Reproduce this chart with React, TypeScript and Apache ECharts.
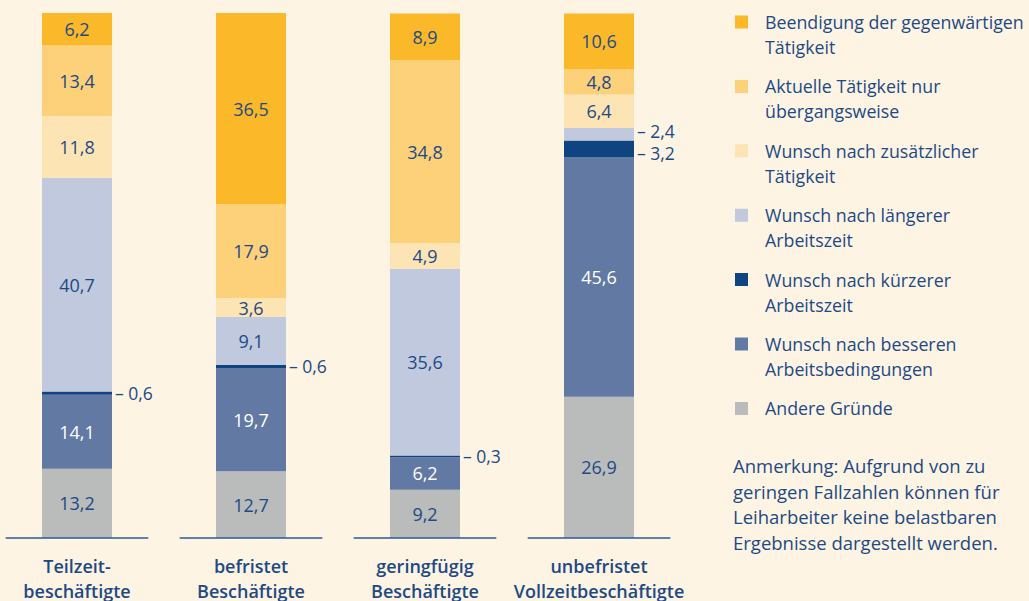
import React, { useEffect, useRef } from 'react';
import * as echarts from 'echarts';

const categories = ['Teilzeit-\nbeschäftigte', 'befristet\nBeschäftigte', 'geringfügig\nBeschäftigte', 'unbefristet\nVollzeitbeschäftigte'];

// bottom to top
const andere = [13.2, 12.7, 9.2, 26.9];
const besseren = [14.1, 19.7, 6.2, 45.6];
const kuerzer = [0.6, 0.6, 0.3, 3.2];
const laenger = [40.7, 9.1, 35.6, 2.4];
const zusaetzlich = [11.8, 3.6, 4.9, 6.4];
const uebergang = [13.4, 17.9, 34.8, 4.8];
const beendigung = [6.2, 36.5, 8.9, 10.6];

const seriesNames = [
  'Andere Gründe',
  'Wunsch nach besseren Arbeitsbedingungen',
  'Wunsch nach kürzerer Arbeitszeit',
  'Wunsch nach längerer Arbeitszeit',
  'Wunsch nach zusätzlicher Tätigkeit',
  'Aktuelle Tätigkeit nur übergangsweise',
  'Beendigung der gegenwärtigen Tätigkeit',
];
const legendLabels = [
  'Andere Gründe\n ',
  'Wunsch nach besseren\nArbeitsbedingungen',
  'Wunsch nach kürzerer\nArbeitszeit',
  'Wunsch nach längerer\nArbeitszeit',
  'Wunsch nach zusätzlicher\nTätigkeit',
  'Aktuelle Tätigkeit nur\nübergangsweise',
  'Beendigung der gegenwärtigen\nTätigkeit',
];
const seriesValues = [andere, besseren, kuerzer, laenger, zusaetzlich, uebergang, beendigung];
const colors = ['#b9bcbb', '#6179a3', '#0e4580', '#c0c9de', '#fde4b5', '#fdd07a', '#fbb829'];
const labelColors = ['#1d4a85', '#ffffff', '#1d4a85', '#1d4a85', '#1d4a85', '#1d4a85', '#1d4a85'];

const note = 'Anmerkung: Aufgrund von zu\ngeringen Fallzahlen können für\nLeiharbeiter keine belastbaren\nErgebnisse dargestellt werden.';

const TEXT = '#1d4a85';
const FONT = 'Open Sans';
const SMALL = 3.5;

const fmt = (v: number) => v.toFixed(1).replace('.', ',');

// legend icon: a 13x13 square near the top of a 13x50 box (aligned with the first text line)
const LEGEND_ICON = 'path://M0,0h0.01v0.01h-0.01Z M0,6h13v13h-13Z M12.99,49.99h0.01v0.01h-0.01Z';

export default function App() {
  const ref = useRef<HTMLDivElement>(null);
  useEffect(() => {
    if (!ref.current) return;
    const chart = echarts.init(ref.current, null, { renderer: 'svg' });
    const barSeries = seriesNames.map((name, si) => ({
      name,
      type: 'bar',
      stack: 'total',
      barWidth: 70,
      itemStyle: { color: colors[si] },
      data: seriesValues[si].map((v, ci) => {
        if (v >= SMALL) return { value: v };
        // separate neighbouring outside labels a little
        const above = si + 1 < seriesValues.length && seriesValues[si + 1][ci] < SMALL;
        const below = si > 0 && seriesValues[si - 1][ci] < SMALL;
        const dy = above ? 4 : below ? -3 : 0;
        return {
          value: v,
          label: {
            show: true,
            position: 'right',
            distance: 3,
            offset: [0, dy],
            color: TEXT,
            fontSize: 17.5,
            lineHeight: 17,
            formatter: () => '– ' + fmt(v),
          },
        };
      }),
      label: {
        show: true,
        position: 'inside',
        color: labelColors[si],
        fontFamily: FONT,
        fontSize: 18,
        formatter: (p: any) => fmt(p.value),
      },
    }));
    const legendOrder = [6, 5, 4, 3, 2, 1, 0];
    chart.setOption({
      animation: false,
      backgroundColor: '#fdf4e4',
      textStyle: { fontFamily: FONT },
      grid: { left: -10, width: 696, top: 13, bottom: 63, outerBoundsMode: 'none', containLabel: false },
      xAxis: {
        type: 'category',
        data: categories,
        axisLine: { show: false },
        axisTick: { show: false },
        axisLabel: {
          interval: 0,
          margin: 15,
          color: TEXT,
          fontFamily: FONT,
          fontWeight: 600,
          fontSize: 18,
          lineHeight: 25,
        },
      },
      yAxis: {
        type: 'value',
        min: 0,
        max: 100,
        show: false,
        splitLine: { show: false },
      },
      legend: {
        orient: 'vertical',
        left: 735,
        top: 9.5,
        padding: 0,
        itemWidth: 13,
        itemHeight: 50,
        itemGap: 14.4,
        selectedMode: false,
        icon: LEGEND_ICON,
        data: legendOrder.map((i) => seriesNames[i]),
        formatter: (name: string) => legendLabels[seriesNames.indexOf(name)],
        textStyle: { color: TEXT, fontFamily: FONT, fontSize: 17.8, lineHeight: 25, padding: [0, 0, 0, 12] },
      },
      graphic: [
        {
          type: 'text',
          left: 733,
          top: 453,
          style: { text: note, fill: TEXT, fontFamily: FONT, fontSize: 18.5, lineHeight: 25.5 },
        },
      ],
      series: [
        ...barSeries,
        {
          type: 'custom',
          silent: true,
          z: 5,
          data: categories.map((_, i) => [i, 0]),
          renderItem: (params: any, api: any) => {
            const p = api.coord([api.value(0), 0]);
            const w = api.size([1, 0])[0];
            return {
              type: 'line',
              shape: { x1: p[0] - w * 0.41, y1: p[1], x2: p[0] + w * 0.41, y2: p[1] },
              style: { stroke: '#2b5b97', lineWidth: 1.5 },
            };
          },
        },
      ],
    });
    return () => chart.dispose();
  }, []);
  return <div ref={ref} style={{ position: 'fixed', left: 0, top: 0, width: 1029, height: 601 }} />;
}
